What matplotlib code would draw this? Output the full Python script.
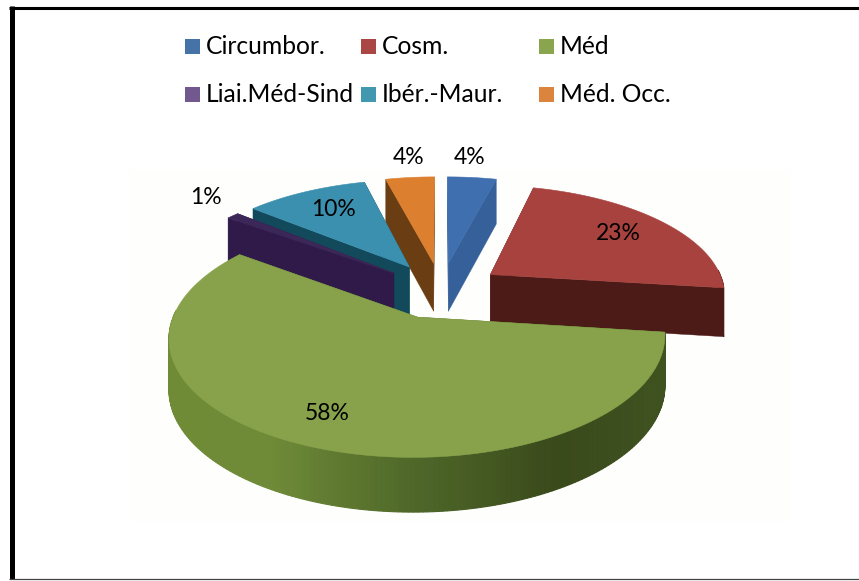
import numpy as np
import matplotlib
matplotlib.use("Agg")
import matplotlib.pyplot as plt
from matplotlib.colors import LinearSegmentedColormap
from matplotlib.patches import Polygon, Rectangle

plt.rcParams['font.family'] = ['Lato', 'DejaVu Sans']

names = ['Circumbor.', 'Cosm.', 'Méd', 'Liai.Méd-Sind', 'Ibér.-Maur.', 'Méd. Occ.']
values = [4, 23, 58, 1, 10, 4]

legend_colors = ['#4572a7', '#aa4643', '#89a54e', '#71588f', '#4198af', '#db843d']
top_colors = ['#3f6fae', '#a8423f', '#87a24a', '#3b2758', '#3a90ae', '#dc7f2e']
side_colors = ['#35609a', '#4d1b17', '#4f6829', '#2f1a4a', '#124a5c', '#6b3d12']
legend_x = [185, 361, 539, 185, 361, 539]
legend_y = [39, 39, 39, 87, 87, 87]
label_pos = [(470, 158), (618, 233), (327, 413), (206, 198), (333, 209), (409, 158)]

# fake 3d projection, numbers fitted on the picture
cx, cy = 441, 290
rx, ry = 235, 108
persp = 0.16
explode = 0.26
depth = 49

green_side = LinearSegmentedColormap.from_list(
    'green_side', ['#6f8b35', '#6f8b38', '#4f6829', '#3a4a1b', '#3f5320'])


def project(x, y, drop=False):
    s = 1 / (1 + persp * y)
    px = cx + rx * x * s
    py = cy - ry * y * s
    if drop:
        py = py + depth * s ** 0.5
    return px, py


def points(x, y, drop=False):
    px, py = project(np.asarray(x), np.asarray(y), drop)
    return np.column_stack([px, py])


fig = plt.figure(figsize=(8.59, 5.81), dpi=100)
ax = fig.add_axes([0, 0, 1, 1])
ax.set_xlim(0, 859)
ax.set_ylim(581, 0)
ax.axis('off')

ax.add_patch(Rectangle((130, 170), 660, 352, fc='#fefefd', ec='none', zorder=0))

# frame
ax.plot([11.5, 11.5], [6, 579], color='black', lw=3.6, solid_capstyle='butt', zorder=1)
ax.plot([9, 859], [7.5, 7.5], color='black', lw=2.2, solid_capstyle='butt', zorder=1)
ax.plot([9, 859], [579, 579], color='#444444', lw=0.9, solid_capstyle='butt', zorder=1)

fractions = np.array(values) / sum(values)
edges = np.concatenate([[0], np.cumsum(fractions)]) * 2 * np.pi

# back to front
order = [0, 5, 4, 1, 3, 2]
z = 2
for i in order:
    a0, a1 = edges[i], edges[i + 1]
    mid = (a0 + a1) / 2
    ox, oy = explode * np.sin(mid), explode * np.cos(mid)
    t = np.linspace(a0, a1, max(int((a1 - a0) * 60), 6))
    arc_x = ox + np.sin(t)
    arc_y = oy + np.cos(t)

    walls = []
    for a in (a0, a1):
        wx = [ox, ox + np.sin(a)]
        wy = [oy, oy + np.cos(a)]
        walls.append((np.mean(wy), wx, wy))
    walls.sort(key=lambda w: -w[0])
    for _, wx, wy in walls:
        quad = np.vstack([points(wx, wy), points(wx[::-1], wy[::-1], True)])
        ax.add_patch(Polygon(quad, fc=side_colors[i], ec=side_colors[i], lw=0.3, zorder=z))
        z += 1

    # outer side, only the part facing us
    for j in range(len(t) - 1):
        if np.cos(t[j]) > 0.05:
            continue
        qx = [arc_x[j], arc_x[j + 1]]
        qy = [arc_y[j], arc_y[j + 1]]
        quad = np.vstack([points(qx, qy), points(qx[::-1], qy[::-1], True)])
        if i == 2:
            c = green_side((np.sin(t[j]) + 1) / 2)
        else:
            c = side_colors[i]
        ax.add_patch(Polygon(quad, fc=c, ec=c, lw=0.8, zorder=z))
    z += 1

    top = np.vstack([points([ox], [oy]), points(arc_x, arc_y)])
    ax.add_patch(Polygon(top, fc=top_colors[i], ec=top_colors[i], lw=0.4, zorder=z))
    z += 1

for i, name in enumerate(names):
    ax.add_patch(Rectangle((legend_x[i], legend_y[i]), 15, 15, fc=legend_colors[i], ec='none', zorder=50))
    ax.text(legend_x[i] + 21, legend_y[i] + 7.5, name, fontsize=17.7, color='black',
            ha='left', va='center', zorder=50)

for v, pos in zip(values, label_pos):
    ax.text(pos[0], pos[1], f'{v}%', fontsize=16.5, color='black', ha='center', va='center', zorder=50)

fig.savefig('out.png', dpi=100)
